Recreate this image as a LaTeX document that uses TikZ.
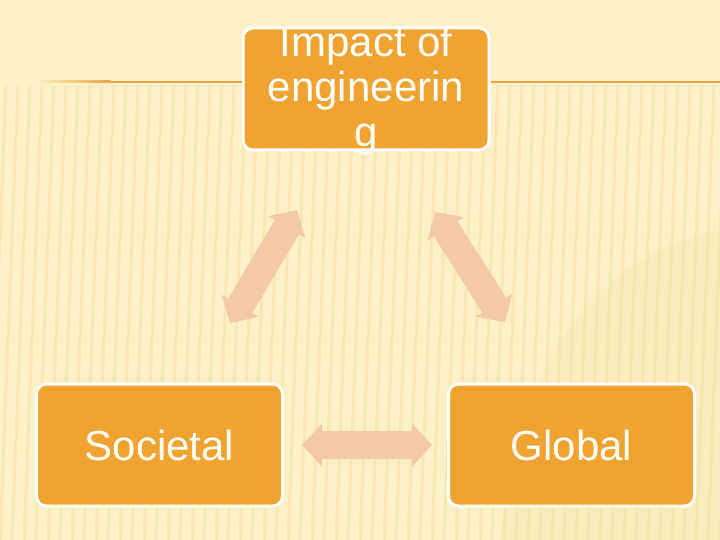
\documentclass[tikz,border=0pt]{standalone}
\usepackage{fontspec}
\setmainfont{Liberation Sans}
\usepackage{xcolor}
\usetikzlibrary{arrows.meta}
\usetikzlibrary{positioning}
\definecolor{bgcream}{HTML}{FCF0C6}
\definecolor{stripe}{HTML}{F2DB98}
\definecolor{boxorange}{HTML}{EFA431}
\definecolor{arrowpeach}{HTML}{F3C9A7}
\definecolor{rulecol}{HTML}{EAA845}
\tikzset{
  Kasten/.style={draw=white, line width=3pt, fill=boxorange, rounded corners=10pt,
    minimum width=246pt, minimum height=122pt, text=white,
    font={\fontsize{42}{45}\selectfont}, align=center, inner sep=0pt}, % für Kästen
  DPfeil/.style={arrowpeach, line width=28pt,
    {Triangle[length=20pt,width=42pt]}-{Triangle[length=20pt,width=42pt]}} % für Doppelpfeile
}
\begin{document}
\begin{tikzpicture}[x=1pt, y=-1pt]
\useasboundingbox (0,0) rectangle (720,540);

%Hintergrund
\fill[bgcream] (0,0) rectangle (720,540);
\foreach \x in {-60,-48,...,780}
  \draw[stripe, line width=3pt, opacity=0.4] (\x+18,86) -- (\x,540);
\fill[stripe, opacity=0.15] (500,540) .. controls (520,330) and (620,250) .. (720,230) -- (720,540) -- cycle;

%Kästen
\node[Kasten] (imp) at (366,89) {};
\node[Kasten] (soc) at (159.5,445) {Societal};
\node[Kasten] (glo) at (571.5,445) {Global};
\node[text=white, font={\fontsize{42}{45}\selectfont}, align=center, inner sep=0pt,
  anchor=base] (impt) at (366,147) {Impact of\\engineerin\\g};

%Leitlinien
\coordinate (hl) at (110,82);
\coordinate (hr) at (720,82);
\shade[left color=bgcream, right color=rulecol] (35,81) rectangle (110,83);
\draw[rulecol, line width=2pt] (hl) -- (hl -| imp.west);
\draw[rulecol, line width=2pt] (hr -| imp.east) -- (hr);

%Doppelpfeile
\coordinate (l1) at (230,323);
\coordinate (l2) at (297,210);
\coordinate (r1) at (435,212);
\coordinate (r2) at (505,322);
\coordinate (b1) at (302,445);
\coordinate (b2) at (432,445);
\draw[DPfeil] (l1) -- (l2);
\draw[DPfeil] (r1) -- (r2);
\draw[DPfeil] (b1) -- (b2);

\end{tikzpicture}
\end{document}
